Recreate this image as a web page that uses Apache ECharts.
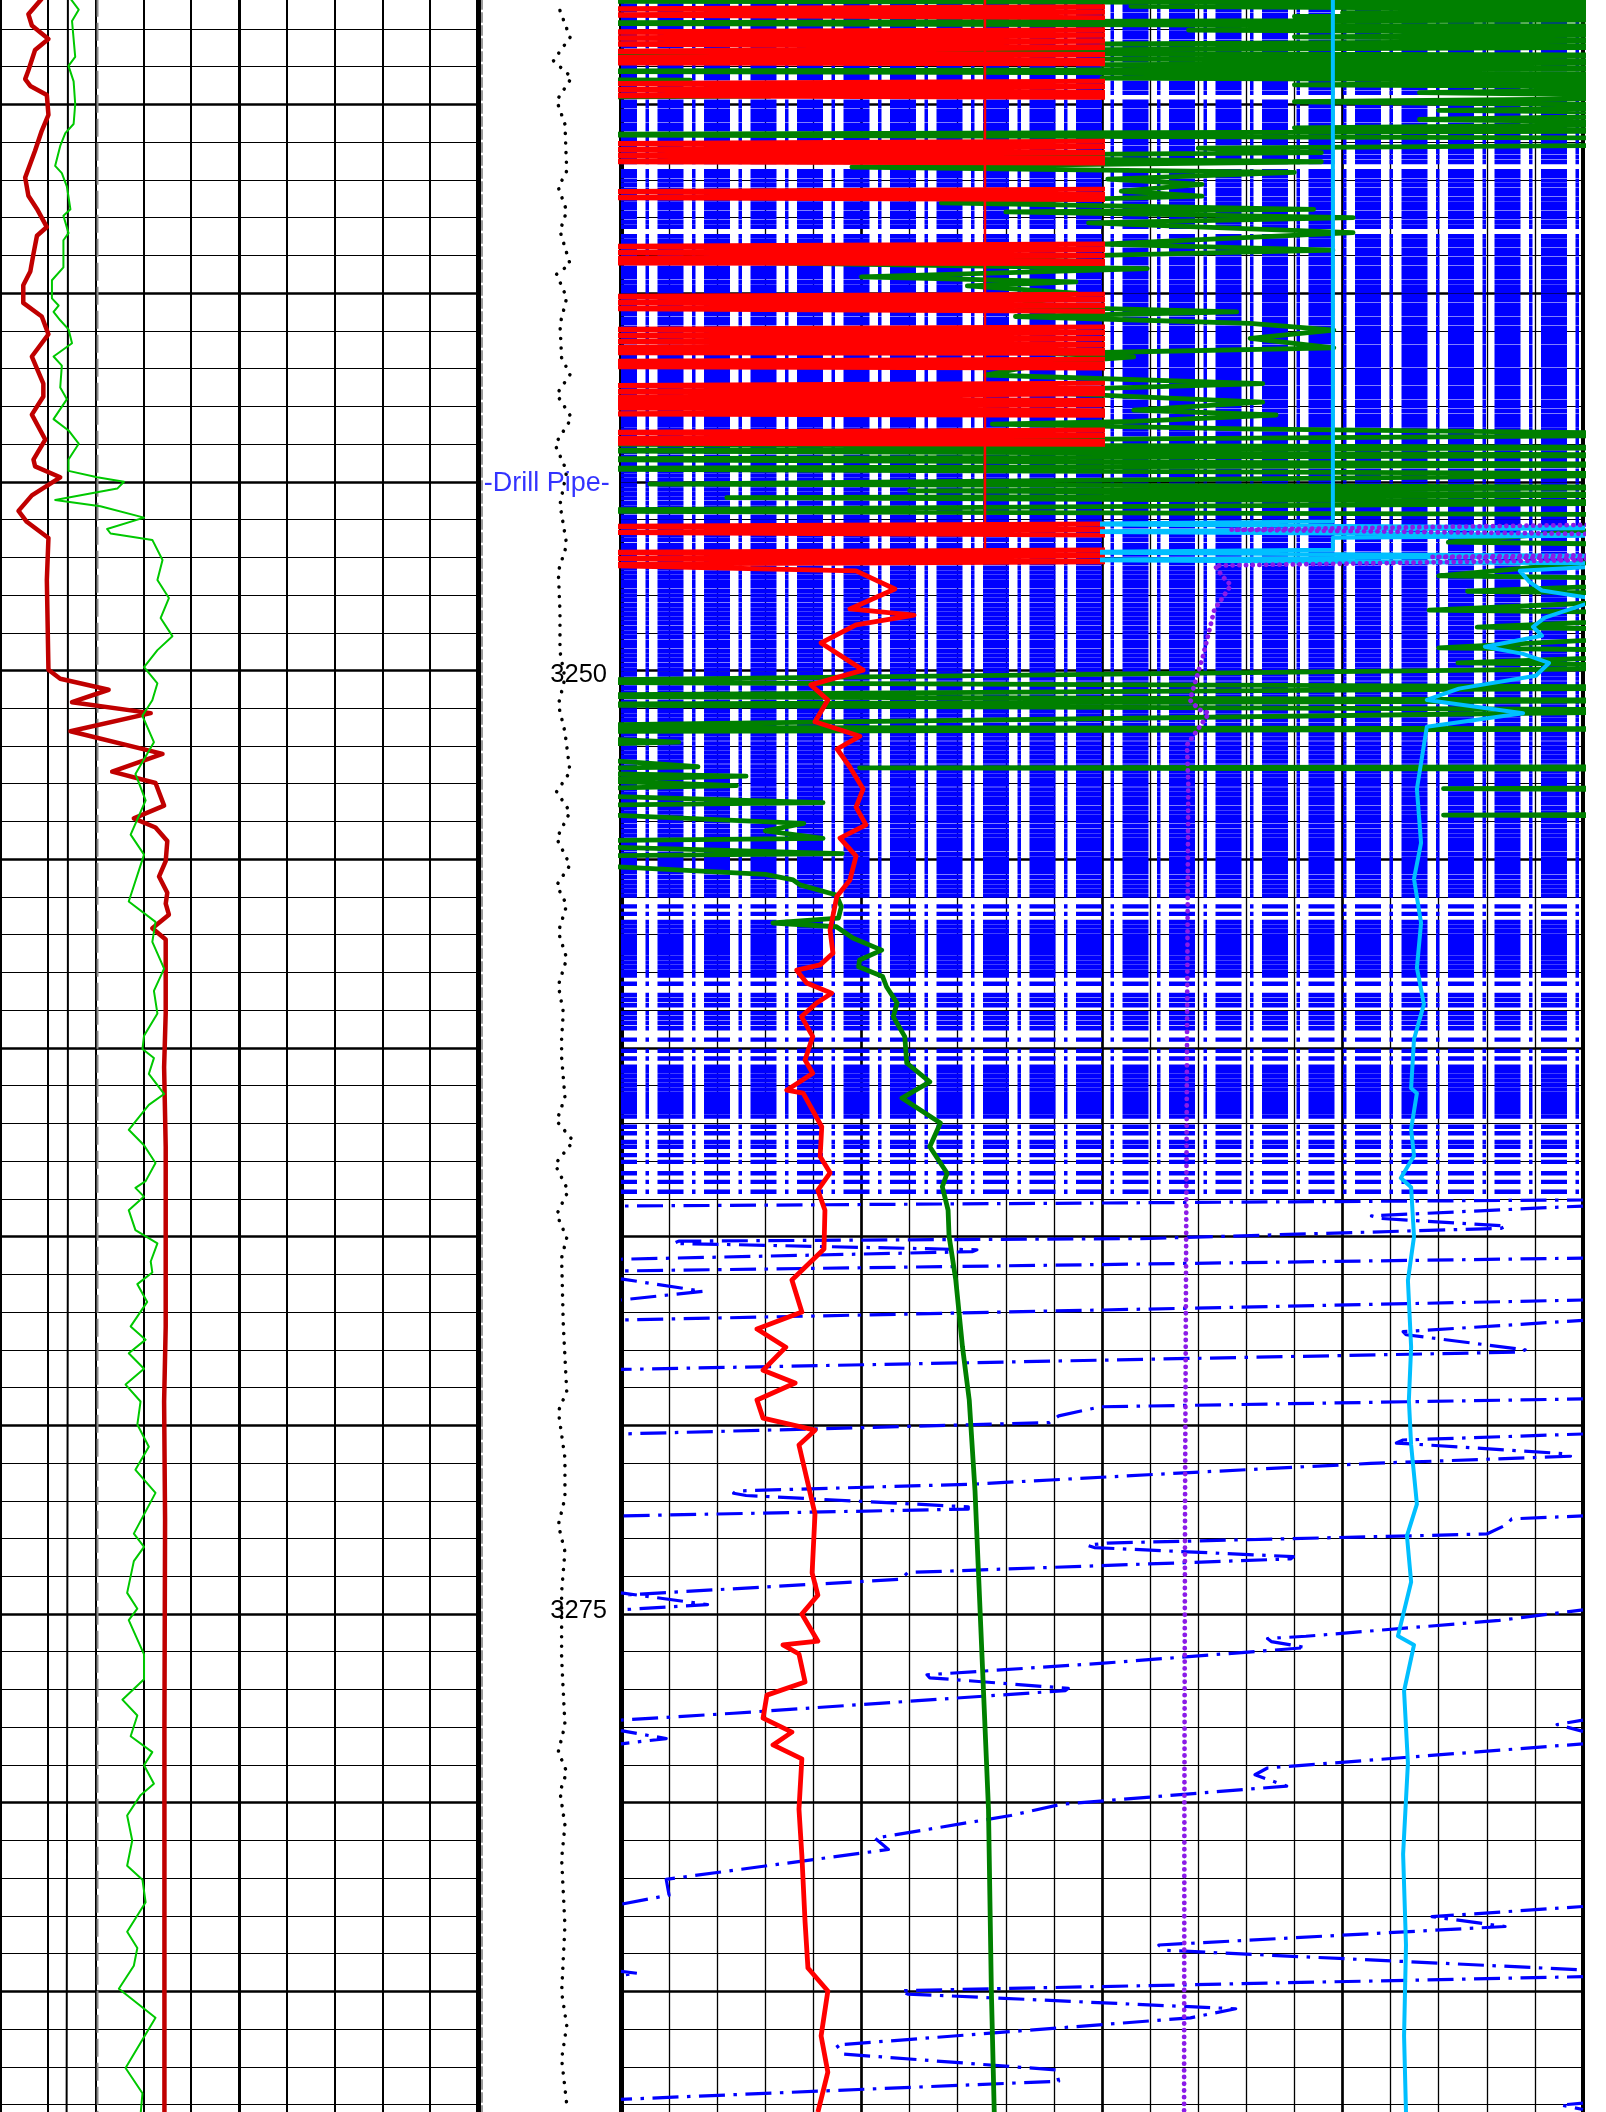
<!DOCTYPE html>
<html>
<head>
<meta charset="utf-8">
<script src="https://cdn.jsdelivr.net/npm/echarts@6.0.0/dist/echarts.min.js"></script>
<style>
  html, body { margin: 0; padding: 0; background: #ffffff; overflow: hidden; width: 1606px; height: 2112px; position: relative; }
  #log { position: absolute; left: 0; }
</style>
</head>
<body>
<div id="log"></div>
<script>
// ---------------------------------------------------------------------------
// Well log section 3232-3288 ft: left track (GR / SP style curves),
// depth track (tension trace, depth numbers, pipe annotation) and the
// right track (resistivity-style curves, several of them wrapping).
// All curve arrays are [depth, reading] pairs.
// ---------------------------------------------------------------------------

// ---- depth track ----
const depthTension = [
  [3232.23,56.5],[3232.95,63.8],[3233.57,51.7],[3234.02,65.0],[3234.64,54.1],[3235.27,60.1],
  [3236.52,61.4],[3236.96,55.3],[3237.59,61.4],[3238.12,56.5],[3239.01,63.8],[3239.28,54.1],
  [3239.91,61.4],[3240.62,56.5],[3241.51,57.7],[3241.96,63.8],[3242.49,54.1],[3243.12,65.0],
  [3243.83,52.9],[3244.54,61.4],[3245.44,56.5],[3246.51,61.4],[3247.22,55.3],[3248.29,56.5],
  [3249.36,56.5],[3250.08,60.1],[3250.79,55.3],[3251.51,60.1],[3252.58,63.8],[3253.11,54.1],
  [3253.65,63.8],[3254.36,54.1],[3255.07,63.8],[3255.61,54.1],[3256.14,61.4],[3256.86,55.3],
  [3257.57,61.4],[3258.29,55.3],[3259.00,58.9],[3259.71,57.7],[3260.21,57.7],[3261.28,60.1],
  [3261.91,54.1],[3262.45,66.2],[3263.07,52.9],[3263.78,62.5],[3264.41,54.1],[3265.03,61.4],
  [3265.57,57.7],[3267.35,58.9],[3269.14,61.4],[3269.67,55.3],[3270.92,60.1],[3271.99,60.1],
  [3272.71,55.3],[3273.42,60.1],[3274.49,57.7],[3276.27,57.7],[3278.06,60.1],[3278.77,55.3],
  [3279.31,61.4],[3279.84,56.5],[3280.73,60.1],[3281.63,57.7],[3283.41,60.1],[3285.20,57.7],
  [3286.09,61.4],[3286.98,57.7],[3288.19,61.4]
];
const pipeNote = { text: '-Drill Pipe-', depth: 3244.87, at: 47 };
const depthLabelStep = 25;

// ---- left track (0-150 scale) ----
const leftRed = [
  [3232.20,13.1],[3232.61,8.9],[3232.91,10.0],[3233.27,15.2],[3233.56,11.0],[3234.10,8.9],
  [3234.33,7.9],[3234.51,9.5],[3234.75,14.7],[3235.28,15.2],[3235.70,13.1],[3236.23,11.0],
  [3236.94,7.9],[3237.42,8.9],[3237.77,11.6],[3238.25,14.7],[3238.48,11.6],[3238.96,10.5],
  [3239.43,9.5],[3239.79,7.3],[3240.26,7.3],[3240.62,13.1],[3241.09,15.2],[3241.68,10.0],
  [3242.40,13.6],[3242.74,13.6],[3243.22,10.0],[3243.88,14.2],[3244.41,10.5],[3244.59,11.0],
  [3244.88,18.9],[3245.36,10.0],[3245.77,5.8],[3246.06,8.4],[3246.49,15.2],[3247.60,14.7],
  [3249.98,15.2],[3250.22,18.9],[3250.51,34.1],[3250.84,22.6],[3251.13,47.3],[3251.61,22.1],
  [3252.21,51.0],[3252.68,35.2],[3252.98,48.8],[3253.58,51.5],[3253.92,42.0],[3254.16,48.8],
  [3254.52,52.5],[3255.05,52.0],[3255.46,49.9],[3255.89,52.5],[3256.18,52.0],[3256.47,53.0],
  [3256.83,47.8],[3257.13,52.0],[3259.08,52.0],[3260.51,51.5],[3262.63,52.0],[3267.38,52.0],
  [3269.37,51.5],[3272.50,51.8],[3278.00,51.6],[3283.00,51.6],[3288.30,51.6]
];
const leftGreen = [
  [3232.20,22.1],[3232.49,24.7],[3232.79,22.6],[3233.74,23.6],[3233.98,21.5],[3234.39,23.1],
  [3234.99,23.6],[3235.52,23.1],[3235.76,20.5],[3236.10,18.9],[3236.63,17.3],[3236.82,19.4],
  [3237.18,21.0],[3237.78,22.1],[3237.95,19.9],[3238.41,21.5],[3238.60,19.9],[3239.32,19.9],
  [3239.66,16.3],[3240.14,16.3],[3240.33,18.4],[3240.50,16.8],[3240.72,18.9],[3240.96,21.5],
  [3241.33,22.6],[3241.68,16.8],[3241.92,19.4],[3242.50,18.9],[3242.81,21.0],[3243.34,16.8],
  [3243.64,21.5],[3243.99,24.7],[3244.41,21.5],[3244.71,21.5],[3244.88,30.5],[3245.00,38.9],
  [3245.18,36.8],[3245.48,17.3],[3245.65,31.5],[3245.95,45.2],[3246.25,33.6],[3246.37,34.7],
  [3246.54,47.8],[3247.07,51.0],[3247.60,49.4],[3248.08,53.0],[3248.61,50.4],[3249.09,54.1],
  [3249.46,49.4],[3249.91,45.2],[3250.34,49.4],[3250.79,47.8],[3251.20,44.7],[3251.90,48.3],
  [3252.74,42.5],[3253.44,45.7],[3254.35,41.0],[3254.88,45.2],[3256.12,40.4],[3256.66,48.8],
  [3257.19,47.8],[3257.90,51.5],[3258.49,48.3],[3259.09,49.4],[3259.68,45.2],[3260.03,44.7],
  [3260.27,48.3],[3260.69,46.7],[3261.22,51.5],[3261.51,46.7],[3262.17,40.4],[3262.58,45.2],
  [3263.05,48.8],[3263.53,45.7],[3263.71,42.5],[3263.94,45.2],[3264.30,40.4],[3264.83,42.5],
  [3265.18,49.4],[3265.66,47.3],[3265.95,47.8],[3266.26,43.1],[3266.73,46.2],[3267.38,41.0],
  [3267.73,45.7],[3268.09,40.4],[3268.50,45.2],[3268.92,39.4],[3269.37,44.1],[3269.98,43.1],
  [3270.57,46.7],[3271.18,42.5],[3271.79,48.8],[3272.87,42.0],[3273.22,45.2],[3273.60,42.0],
  [3274.44,39.9],[3274.86,43.1],[3275.16,40.4],[3276.07,45.2],[3276.73,45.2],[3277.27,38.4],
  [3277.69,43.1],[3278.24,41.0],[3278.66,47.8],[3279.01,45.2],[3279.50,48.3],[3279.80,44.1],
  [3280.34,39.9],[3281.00,41.5],[3281.67,39.9],[3282.04,44.7],[3282.64,45.7],[3283.42,39.9],
  [3283.85,43.1],[3284.32,42.0],[3284.93,37.3],[3285.70,48.8],[3287.03,39.4],[3287.70,44.7],
  [3288.28,44.1]
];
const leftBitSize = [[3232.20,21.3],[3264.30,21.3],[3264.31,20.9],[3288.30,20.9]];
const leftReference = [[3232.20,30.6],[3288.30,30.6]];

// ---- right track, blue wrapping curve (0-100 across the track) ----
// depths of the tightly packed wrap passes
const blueWrapDepths = [
  3232.27,3232.39,3232.50,3232.63,3232.74,3232.87,3232.98,
  3233.10,3233.22,3233.35,3233.46,3233.59,3233.71,3233.82,3233.95,
  3234.07,3234.20,3234.31,3234.44,3234.56,3234.69,3234.93,
  3235.05,3235.18,3235.30,3235.41,3235.54,3235.66,3235.79,3235.91,
  3236.03,3236.16,3236.27,3236.40,3236.53,3236.77,3236.89,
  3237.02,3237.14,3237.27,3237.38,3237.51,3237.63,3237.74,3237.87,3237.99,
  3238.12,3238.24,3238.49,3238.61,3238.72,3238.85,3238.97,
  3239.10,3239.21,3239.34,3239.46,3239.58,3239.71,3239.83,3239.94,
  3240.07,3240.19,3240.32,3240.44,3240.55,3240.68,3240.80,3240.93,
  3241.05,3241.17,3241.29,3241.42,3241.54,3241.66,3241.78,3241.90,
  3242.03,3242.15,3242.27,3242.39,3242.52,3242.64,3242.75,3242.88,3242.99,
  3243.12,3243.25,3243.37,3243.49,3243.61,3243.73,3243.86,3243.98,
  3244.10,3244.22,3244.35,3244.47,3244.58,3244.71,3244.83,3244.95,
  3245.08,3245.20,3245.32,3245.44,3245.57,3245.69,3245.80,3245.93,
  3246.05,3246.17,3246.30,3246.42,3246.54,3246.67,3246.78,3246.91,
  3247.03,3247.15,3247.28,3247.40,3247.52,3247.64,3247.76,3247.89,
  3248.01,3248.13,3248.26,3248.38,3248.50,3248.62,3248.74,3248.87,3248.99,
  3249.11,3249.24,3249.35,3249.48,3249.60,3249.72,3249.85,3249.97,
  3250.09,3250.21,3250.34,3250.46,3250.58,3250.70,3250.83,3250.95,
  3251.07,3251.19,3251.31,3251.44,3251.56,3251.68,3251.80,3251.93,
  3252.05,3252.17,3252.29,3252.41,3252.54,3252.66,3252.78,3252.90,
  3253.02,3253.15,3253.27,3253.39,3253.51,3253.64,3253.76,3253.88,3253.99,
  3254.12,3254.25,3254.37,3254.49,3254.61,3254.73,3254.86,3254.98,
  3255.10,3255.22,3255.34,3255.47,
  3255.60,3255.72,3255.84,3255.96,3256.25,3256.45,
  3256.66,3256.78,3256.90,3257.02,3257.14,3257.26,3257.38,3257.50,3257.62,3257.74,3257.86,3257.98,3258.08,
  3258.30,3258.60,3258.73,3258.87,3259.08,3259.21,3259.34,3259.48,
  3259.78,3260.08,3260.28,
  3260.50,3260.62,3260.74,3260.86,3260.98,3261.10,3261.22,3261.34,3261.46,3261.58,3261.70,3261.82,
  3262.09,3262.26,3262.49,3262.62,3262.84,3263.02,3263.32,3263.55,3263.81
];
// individual wrap passes further down, with their small reversals
const blueWrapPasses = [
  [[3264.03,100],[3264.19,0]],
  [[3264.19,100],[3264.45,78],[3264.52,79],[3264.72,92],[3264.78,91.5],[3265.05,55],[3265.12,6],[3265.18,5.5],[3265.35,37],[3265.40,36.5],[3265.60,0]],
  [[3265.57,100],[3265.91,0]],
  [[3266.12,0],[3266.45,8.5],[3266.68,0]],
  [[3266.68,100],[3267.21,0]],
  [[3267.22,100],[3267.52,81.3],[3267.60,81.6],[3268.00,94],[3268.06,93.5],[3268.52,0]],
  [[3269.30,100],[3269.51,49.8],[3269.75,45.5],[3269.93,44.5],[3270.23,0]],
  [[3270.23,100],[3270.39,81.3],[3270.47,80.6],[3270.75,98.0],[3270.82,98.7],[3271.01,77.9],[3271.26,58.5],[3271.56,36.5],[3271.74,12.0],[3271.80,11.7],[3271.86,13.0],[3272.16,36.1],[3272.22,36.1],[3272.40,0]],
  [[3272.40,100],[3272.48,92.6],[3272.64,92.0],[3272.88,90.0],[3273.12,50.5],[3273.18,48.5],[3273.24,49.2],[3273.48,69.9],[3273.54,69.6],[3273.90,29.8],[3274.08,29.1],[3274.50,0]],
  [[3274.44,0],[3274.75,9.0],[3274.89,0]],
  [[3274.89,100],[3275.17,91.3],[3275.59,71.2],[3275.65,67.2],[3275.73,67.6],[3275.89,71.2],[3276.31,49.8],[3276.61,31.8],[3276.69,32.1],[3276.97,46.5],[3277.03,46.2],[3277.63,11.7],[3277.81,0]],
  [[3277.81,100],[3277.93,97.3],[3278.11,100]],
  [[3278.09,0],[3278.30,4.7],[3278.44,0]],
  [[3278.44,100],[3279.08,67.2],[3279.26,65.9],[3279.56,69.2],[3280.04,45.8],[3280.34,40.5],[3280.94,26.4],[3281.24,27.8],[3282.03,4.7],[3282.45,5.0],[3282.69,0]],
  [[3282.75,100],[3283.02,84.3],[3283.28,91.9],[3283.77,55.9],[3283.91,56.5],[3284.43,100]],
  [[3284.47,0],[3284.52,1.7],[3284.57,0]],
  [[3284.61,100],[3284.98,29.1],[3285.07,29.8],[3285.46,63.9],[3285.70,59.2],[3286.42,22.4],[3286.66,23.1],[3287.08,45.2],[3287.38,45.5],[3287.86,0]],
  [[3287.96,100],[3288.01,97.7],[3288.13,100]]
];

// ---- right track, green curve (0-100 across the track) ----
const rightGreen = [
  [3232.23,120],[3232.26,-20],[3232.32,120],[3232.40,53],[3232.50,120],[3232.57,75],[3232.63,120],
  [3232.67,70],[3232.75,120],[3232.85,-20],[3232.93,120],[3233.03,59],[3233.12,120],[3233.21,70],
  [3233.30,120],[3233.40,50],[3233.47,120],[3233.55,50],[3233.62,-20],[3233.70,120],[3233.80,50],
  [3233.88,120],[3233.95,50],[3234.05,120],[3234.12,-20],[3234.20,120],[3234.30,50],[3234.38,120],
  [3234.48,70],[3234.55,120],[3234.69,83],[3234.80,120],[3234.93,70],[3235.05,120],[3235.16,85],
  [3235.25,120],[3235.40,83],[3235.50,120],[3235.62,70],[3235.70,120],[3235.80,-20],[3235.90,120],
  [3236.06,120],[3236.16,60],[3236.28,72.8],[3236.38,18.5],[3236.52,72.8],[3236.66,24],[3236.80,70],
  [3236.98,50.6],[3237.12,60.4],[3237.30,52],[3237.43,60.4],[3237.61,33.3],[3237.78,72.0],[3237.85,40],
  [3238.00,76.1],[3238.14,48.6],[3238.40,76.1],[3238.70,50],[3238.86,74],[3239.20,15.2],[3239.35,54.7],
  [3239.57,25],[3239.70,47.3],[3239.81,36.0],[3240.00,47.3],[3240.35,41.0],[3240.50,64.0],[3240.62,41],
  [3240.80,65.4],[3240.98,74.1],[3241.20,65.4],[3241.45,74.1],[3241.60,44.6],[3241.69,53.3],[3241.85,44.6],
  [3242.17,37.9],[3242.40,66.7],[3242.60,40],[3242.89,66.7],[3243.10,53.3],[3243.23,68.1],[3243.40,53.3],
  [3243.47,38.6],[3243.60,64.7],[3243.75,120],
  [3243.99,-20],[3244.10,120],[3244.17,-20],[3244.30,120],
  [3244.40,-20],[3244.55,120],[3244.65,-20],[3244.80,120],[3245.06,3],[3245.15,120],[3245.24,30],
  [3245.35,120],[3245.42,11],[3245.55,120],[3245.77,-20],[3245.88,120],[3246.60,86],[3246.70,120],
  [3247.49,85],[3247.60,120],[3247.90,88],[3248.00,120],[3248.40,84],[3248.50,120],[3248.85,89],
  [3248.95,120],[3249.40,85],[3249.50,120],[3249.80,87],[3249.90,120],[3250.30,-20],[3250.45,120],
  [3250.67,-20],[3250.80,120],[3250.90,-20],[3251.05,120],[3251.50,-20],[3251.55,120],[3251.62,-20],
  [3251.90,6],[3252.05,-20],[3252.55,8],[3252.65,-20],[3252.80,13],[3252.90,-5],[3253.05,12],
  [3253.20,-20],[3253.50,21],[3253.62,-20],[3254.05,19],[3254.25,15],[3254.45,21],[3254.55,-20],
  [3254.85,23],[3254.95,-20],[3255.40,15],
  [3255.55,17.9],[3255.68,18.6],[3255.95,22.4],[3256.26,22.9],[3256.56,22.6],[3256.69,15.8],
  [3256.79,22.4],[3257.09,24.1],[3257.41,27.1],[3257.67,24.8],[3257.85,24.7],[3258.11,27.2],
  [3258.38,27.6],[3258.81,28.7],[3259.17,28.3],[3259.70,29.5],[3260.40,29.7],[3260.90,32.1],
  [3261.33,29.2],[3261.99,33.2],[3262.62,32.1],[3263.32,33.9],[3263.68,33.4],[3264.30,34.0],
  [3264.98,34.1],[3266.15,34.8],[3267.93,35.5],[3269.33,36.2],[3271.74,36.8],[3275.35,37.4],
  [3280.17,38.2],[3284.99,38.5],[3288.20,38.8]
];
const rightGreenExcursions = [
  [[3234.33,-20],[3234.36,7.2],[3234.40,-20]],
  [[3234.75,-20],[3234.78,15.5],[3234.82,-20]],
  [[3252.55,120],[3252.58,24.8],[3252.62,120]],
  [[3253.10,120],[3253.13,85.5],[3253.17,120]],
  [[3253.80,120],[3253.83,85.5],[3253.87,120]]
];

// ---- right track, red curve (0-150 across the left half) ----
const rightRed = [
  [3232.23,170],
  [3232.40,170],[3232.47,-20],[3232.55,170],[3232.63,-20],[3232.71,170],
  [3233.01,170],[3233.08,-20],[3233.16,170],[3233.24,-20],[3233.32,170],[3233.40,-20],[3233.48,170],
  [3233.53,170],[3233.60,-20],[3233.68,170],[3233.76,-20],[3233.84,170],[3233.90,-20],[3233.93,170],
  [3234.38,170],[3234.45,-20],[3234.53,170],[3234.61,-20],[3234.69,170],[3234.77,-20],[3234.82,170],
  [3235.97,170],[3236.04,-20],[3236.12,170],[3236.20,-20],[3236.28,170],[3236.36,-20],[3236.44,170],[3236.52,-20],[3236.56,170],
  [3237.24,170],[3237.31,-20],[3237.39,170],[3237.47,-20],[3237.53,170],
  [3238.69,170],[3238.76,-20],[3238.84,170],[3238.92,-20],[3239.00,170],[3239.08,-20],[3239.16,170],[3239.20,-20],[3239.22,170],
  [3240.02,170],[3240.09,-20],[3240.17,170],[3240.25,-20],[3240.33,170],[3240.41,-20],[3240.49,170],
  [3240.89,170],[3240.96,-20],[3241.04,170],[3241.12,-20],[3241.20,170],[3241.28,-20],[3241.36,170],[3241.44,-20],[3241.52,170],[3241.58,-20],[3241.60,170],
  [3241.74,170],[3241.81,-20],[3241.89,170],[3241.95,-20],[3241.99,170],
  [3242.38,170],[3242.45,-20],[3242.53,170],[3242.61,-20],[3242.66,170],
  [3242.70,170],[3242.77,-20],[3242.85,170],[3242.91,-20],[3242.95,170],
  [3242.97,170],[3243.04,-20],[3243.12,170],[3243.20,-20],[3243.24,170],
  [3243.62,170],[3243.69,-20],[3243.77,170],[3243.85,-20],[3243.93,170],[3243.98,-20],[3244.01,170],
  [3246.11,170],[3246.18,-20],[3246.26,170],[3246.34,-20],[3246.42,170],
  [3246.80,170],[3246.87,-20],[3246.95,170],[3247.03,-20],[3247.11,170],[3247.19,-20],
  [3247.36,73.3],[3247.84,85.4],[3248.37,71.4],[3248.53,91.4],[3248.79,73.3],[3249.27,62.4],
  [3249.99,75.5],[3250.38,59.2],[3250.78,64.5],[3251.36,60.5],[3251.74,74.5],[3252.08,67.4],
  [3252.56,71.4],[3253.14,75.5],[3253.62,73.3],[3254.09,76.4],[3254.44,68.3],[3254.92,73.3],
  [3255.55,71.4],[3255.99,67.3],[3256.88,65.2],[3257.49,66.1],[3257.80,62.1],[3257.94,54.8],
  [3258.28,57.9],[3258.55,65.7],[3258.81,61.0],[3259.17,56.3],[3259.70,59.8],[3260.32,57.4],
  [3260.67,59.8],[3261.12,51.7],[3261.20,56.8],[3262.09,62.6],[3262.88,62.1],[3263.31,65.2],
  [3263.77,61.4],[3264.30,63.6],[3265.33,63.3],[3266.15,53.3],[3267.00,56.4],[3267.45,42.4],
  [3267.93,51.4],[3268.54,44.3],[3268.88,54.3],[3269.33,42.4],[3269.81,44.3],[3270.13,60.5],
  [3270.52,55.5],[3272.35,60.5],[3273.91,59.6],[3274.50,61.4],[3275.00,56.4],[3275.72,61.4],
  [3275.82,50.5],[3276.06,55.5],[3276.80,57.4],[3277.15,45.5],[3277.76,44.3],[3278.13,53.3],
  [3278.47,47.4],[3278.84,56.4],[3280.17,55.5],[3281.39,56.4],[3283.16,57.4],[3284.38,58.3],
  [3284.99,64.5],[3286.18,62.4],[3287.14,64.5],[3288.20,61.4]
];
const rightRedBackup = [[3232.23,113.5],[3247.00,113.5]];

// ---- right track, cyan and purple curves (0-150 across the right half) ----
const rightCyan = [
  [3232.23,72],[3246.05,72],[3246.12,-20],[3246.22,170],[3246.32,-20],[3246.42,170],[3246.48,72],
  [3246.80,72],[3246.87,-20],[3246.97,170],[3247.07,-20],[3247.17,170],[3247.36,130.3],[3247.65,133.3],
  [3247.88,137.2],[3248.12,155],[3248.60,138.1],[3248.84,134.4],[3249.08,137.2],[3249.37,119.4],
  [3249.56,131.3],[3249.80,139.4],[3250.14,135.3],[3250.48,111.3],[3250.78,101.3],[3251.13,131.3],
  [3251.49,101.3],[3251.97,100.4],[3253.14,98.2],[3254.57,99.5],[3255.52,97.3],[3256.69,99.5],
  [3257.88,98.2],[3258.84,100.4],[3259.77,97.3],[3261.07,96.4],[3261.20,98.2],[3262.15,96.4],
  [3262.86,97.3],[3263.45,93.2],[3263.69,96.4],[3265.00,97.3],[3266.16,95.4],[3267.93,96.4],
  [3269.33,95.7],[3270.52,96.4],[3272.09,98.2],[3272.93,95.1],[3274.15,96.4],[3275.58,92.3],
  [3275.82,97.3],[3277.04,94.2],[3278.95,95.4],[3281.36,93.9],[3283.77,94.8],[3286.18,94.2],
  [3288.20,94.8]
];
const rightPurple = [
  [[3246.12,170],[3246.27,40.2],[3246.40,170]],
  [[3246.93,170],[3246.99,103],[3247.05,170],[3247.22,35.2],[3247.50,37.5],[3247.74,40.2],
   [3248.40,35.0],[3249.62,31.5],[3250.78,27.4],[3251.03,30.2],[3251.13,33.4],[3251.97,26.5],
   [3253.00,26.9],[3260.00,26.5],[3266.00,26.2],[3272.00,25.9],[3280.00,25.7],[3288.20,25.6]]
];

// ---------------------------------------------------------------------------
// layout: one depth scale shared by every track; the canvas is taller than
// the page so that the 3225-3300 axis can keep round tick steps
// ---------------------------------------------------------------------------
const DEPTH_MIN = 3225, DEPTH_MAX = 3300;
const PX_PER_FT = 37.74, Y_AT_3250 = 670.5;
const canvasShift = Y_AT_3250 - (3250 - DEPTH_MIN) * PX_PER_FT;   // negative: starts above the page
const gridHeight = (DEPTH_MAX - DEPTH_MIN) * PX_PER_FT;
const canvasHeight = Math.ceil(gridHeight) + 1;

const host = document.getElementById('log');
host.style.top = canvasShift + 'px';
host.style.width = '1606px';
host.style.height = canvasHeight + 'px';

const GAP = ['-', '-'];
const toXY = arr => arr.map(p => [p[1], p[0]]);
const joinPieces = pieces => {
  const out = [];
  pieces.forEach(piece => { toXY(piece).forEach(p => out.push(p)); out.push(GAP); });
  return out;
};
const wrapRows = [];
blueWrapDepths.forEach(d => { wrapRows.push([0, d], [100, d], GAP); });

const grids = [
  { left: 0,    width: 478, top: 0, height: gridHeight },   // left track
  { left: 482,  width: 138, top: 0, height: gridHeight },   // depth track
  { left: 621,  width: 962, top: 0, height: gridHeight },   // right track
  { left: 621,  width: 481, top: 0, height: gridHeight },   // right track, left half scale
  { left: 1102, width: 481, top: 0, height: gridHeight }    // right track, right half scale
];

const hidden = { axisLine: { show: false, onZero: false }, axisTick: { show: false }, axisLabel: { show: false }, splitLine: { show: false } };
const yAxis = (gridIndex, extra) => Object.assign({
  type: 'value', gridIndex, min: DEPTH_MIN, max: DEPTH_MAX, inverse: true
}, hidden, extra || {});
const xAxis = (gridIndex, min, max, extra) => Object.assign({
  type: 'value', gridIndex, min, max
}, hidden, extra || {});

const depthGrid = {
  interval: 5,
  splitLine: { show: true, lineStyle: { color: '#000', width: 2.6 } },
  minorTick: { show: false, splitNumber: 5 },
  minorSplitLine: { show: true, lineStyle: { color: '#000', width: 1.2 } }
};

const yAxes = [
  yAxis(0, Object.assign({ position: 'right',
    axisLine: { show: true, onZero: false, lineStyle: { color: '#000', width: 5 } } }, depthGrid)),
  yAxis(0, { position: 'right', offset: 3.5,
    axisLine: { show: true, onZero: false, lineStyle: { color: '#9a9a9a', width: 2, type: [9, 4] } } }),
  yAxis(1, { position: 'right', interval: depthLabelStep,
    axisLabel: { show: true, inside: true, margin: 13, color: '#000', fontSize: 25.5,
      fontFamily: 'Liberation Sans, Arial, sans-serif', padding: [0, 0, 19, 0],
      formatter: v => String(v) } }),
  yAxis(2, Object.assign({ position: 'left',
    axisLine: { show: true, onZero: false, lineStyle: { color: '#000', width: 5 } } }, depthGrid)),
  yAxis(2, { position: 'right',
    axisLine: { show: true, onZero: false, lineStyle: { color: '#000', width: 4 } } }),
  yAxis(3),
  yAxis(4)
];
const xAxes = [
  xAxis(0, 0, 150, { interval: 75,
    splitLine: { show: true, lineStyle: { color: '#000', width: 3 } },
    minorTick: { show: false, splitNumber: 5 },
    minorSplitLine: { show: true, lineStyle: { color: '#000', width: 2 } } }),
  xAxis(1, 0, 100),
  xAxis(2, 0, 100, { interval: 25,
    splitLine: { show: true, lineStyle: { color: '#000', width: 2.7 } },
    minorTick: { show: false, splitNumber: 5 },
    minorSplitLine: { show: true, lineStyle: { color: '#000', width: 1.3 } } }),
  xAxis(3, 0, 150),
  xAxis(4, 0, 150)
];

const TRACK = { left: [0, 0], depth: [1, 2], right: [2, 3], rightA: [3, 5], rightB: [4, 6] };
const curve = (track, data, lineStyle, z) => ({
  type: 'line', xAxisIndex: TRACK[track][0], yAxisIndex: TRACK[track][1],
  data, showSymbol: false, symbol: 'none', clip: true, silent: true,
  animation: false, connectNulls: false, z: z || 2,
  lineStyle: Object.assign({ join: 'round' }, lineStyle)
});
const dashDot = [26, 8.5, 3.5, 8.5];

const option = {
  animation: false,
  backgroundColor: '#ffffff',
  grid: grids,
  xAxis: xAxes,
  yAxis: yAxes,
  series: [
    curve('right', wrapRows, { color: '#0000ff', width: 4.4, type: dashDot, dashOffset: 10, cap: 'butt', join: 'miter' }, 2),
    curve('right', joinPieces(blueWrapPasses), { color: '#0000ff', width: 3.2, type: dashDot, dashOffset: 10 }, 2),
    curve('right', toXY(rightGreen), { color: '#008000', width: 4.8 }, 3),
    curve('right', joinPieces(rightGreenExcursions), { color: '#008000', width: 4.8 }, 3),
    curve('rightA', toXY(rightRed), { color: '#ff0000', width: 4.8 }, 4),
    curve('rightA', toXY(rightRedBackup), { color: '#ff0000', width: 2.5 }, 4),
    curve('rightB', toXY(rightCyan), { color: '#00bfff', width: 4 }, 5),
    curve('rightB', joinPieces(rightPurple), { color: '#8b1be8', width: 4.8, type: [0.1, 6.6], cap: 'round' }, 6),
    curve('left', toXY(leftBitSize), { color: '#000', width: 2 }, 3),
    curve('left', toXY(leftReference), { color: '#8c8c8c', width: 2, type: [18, 6] }, 3),
    curve('left', toXY(leftRed), { color: '#c00000', width: 4.5 }, 4),
    curve('left', toXY(leftGreen), { color: '#00c800', width: 2 }, 5),
    curve('depth', toXY(depthTension), { color: '#000', width: 3.5, type: [0.1, 9.5], cap: 'round' }, 6),
    {
      type: 'scatter', xAxisIndex: 1, yAxisIndex: 2, silent: true, animation: false, z: 7,
      symbolSize: 1, itemStyle: { color: 'rgba(0,0,0,0)' },
      data: [[pipeNote.at, pipeNote.depth]],
      label: { show: true, position: 'inside', formatter: pipeNote.text, color: '#0000ff',
        fontSize: 27, fontFamily: 'Liberation Sans, Arial, sans-serif' }
    }
  ]
};

const chart = echarts.init(host, null, { renderer: 'canvas', width: 1606, height: canvasHeight });
chart.setOption(option);
</script>
</body>
</html>
